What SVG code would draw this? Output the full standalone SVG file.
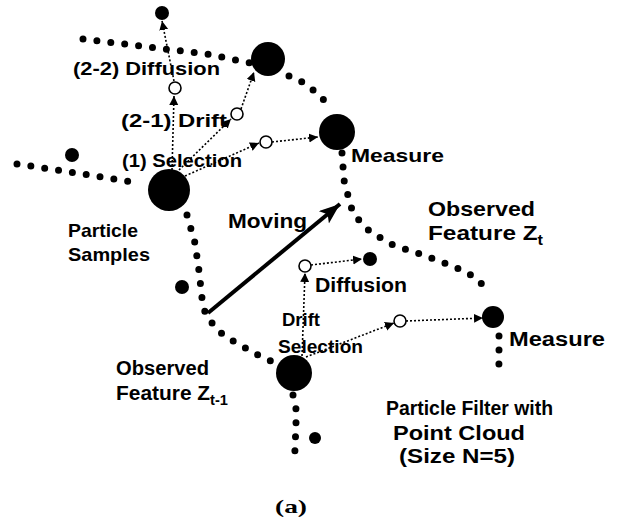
<svg xmlns="http://www.w3.org/2000/svg" width="619" height="525" viewBox="0 0 619 525">
<defs>
<style>
.track{fill:none;stroke:#000;stroke-width:7;stroke-linecap:round;stroke-dasharray:0 14}
.dot{fill:#000}
.open{fill:#fff;stroke:#000;stroke-width:1.6}
.conn{fill:none;stroke:#000;stroke-width:1.6;stroke-dasharray:2 2}
.lbl{font-family:"Liberation Sans",Arial,sans-serif;font-weight:bold;fill:#000}
.sub{font-size:14px}
.cap{font-family:"Liberation Serif","Times New Roman",serif;font-weight:bold;font-size:19px;fill:#000}
</style>
<marker id="ah" markerUnits="userSpaceOnUse" markerWidth="10" markerHeight="10" refX="9" refY="4.5" orient="auto">
<path d="M0,0 L9,4.5 L0,9 z" fill="#000"/>
</marker>
<marker id="bigah" markerUnits="userSpaceOnUse" markerWidth="22" markerHeight="18" refX="21" refY="8" orient="auto">
<path d="M0,0 L21,8 L0,16 L5,8 z" fill="#000"/>
</marker>
</defs>

<g id="tracks">
<path class="track" d="M83,39 L140,46 L207,54 L250,63"/>
<path class="track" d="M289,76 L302,82 L313,90 L323,99 L331,111"/>
<path class="track" d="M342,153 L344,180 L351,207 L357,218 L367,229 L379,237 L393,245 L423,255 L452,266 L468,273 L480,282 L490,294"/>
<path class="track" d="M499,336 L499,363 L498,376"/>
<path class="track" d="M17,164 L70,172 L138,183"/>
<path class="track" d="M187,215 L195,243 L199,271 L202,298 L205,312 L212,323 L221,333 L233,341 L258,355 L271,361"/>
<path class="track" d="M293,395 L296,409 L296,423 L295,450 L293,464"/>
</g>

<g id="connectors">
<path class="conn" d="M172,170 L174,96" marker-end="url(#ah)"/>
<path class="conn" d="M174,81 L162,21" marker-end="url(#ah)"/>
<path class="conn" d="M179,170 L231,119" marker-end="url(#ah)"/>
<path class="conn" d="M241,109 L254,72" marker-end="url(#ah)"/>
<path class="conn" d="M185,176 L259,143" marker-end="url(#ah)"/>
<path class="conn" d="M272,142 L318,137" marker-end="url(#ah)"/>
<path class="conn" d="M302,356 L305,273" marker-end="url(#ah)"/>
<path class="conn" d="M311,265 L362,259" marker-end="url(#ah)"/>
<path class="conn" d="M306,357 L394,323" marker-end="url(#ah)"/>
<path class="conn" d="M406,321 L483,318" marker-end="url(#ah)"/>
<path id="moving" d="M208,313 L340,204" fill="none" stroke="#000" stroke-width="4" marker-end="url(#bigah)"/>
</g>

<g id="nodeA"><circle class="dot" cx="268" cy="59" r="17"/></g>
<g id="nodeB"><circle class="dot" cx="337" cy="132" r="18"/></g>
<g id="nodeC"><circle class="dot" cx="169" cy="190" r="21"/></g>
<g id="nodeD"><circle class="dot" cx="294" cy="373" r="18"/></g>
<g id="nodeE"><circle class="dot" cx="493" cy="317" r="11"/></g>
<g id="dotTop"><circle class="dot" cx="162" cy="13" r="7"/></g>
<g id="dotLeft"><circle class="dot" cx="72" cy="155" r="7"/></g>
<g id="dotMid"><circle class="dot" cx="182" cy="287" r="7"/></g>
<g id="dotLow"><circle class="dot" cx="315" cy="438" r="6"/></g>
<g id="dotDiff"><circle class="dot" cx="370" cy="259" r="7"/></g>
<g id="open1"><circle class="open" cx="175" cy="88" r="6"/></g>
<g id="open2"><circle class="open" cx="237" cy="114" r="6"/></g>
<g id="open3"><circle class="open" cx="266" cy="142" r="6"/></g>
<g id="open4"><circle class="open" cx="305" cy="266" r="6"/></g>
<g id="open5"><circle class="open" cx="400" cy="321" r="6"/></g>

<g id="labels">
<text class="lbl" x="73" y="75" style="font-size:18px" textLength="147" lengthAdjust="spacingAndGlyphs">(2-2) Diffusion</text>
<text class="lbl" x="121" y="127" style="font-size:18px" textLength="106" lengthAdjust="spacingAndGlyphs">(2-1) Drift</text>
<text class="lbl" x="122" y="167" style="font-size:18px" textLength="120" lengthAdjust="spacingAndGlyphs">(1) Selection</text>
<text class="lbl" x="68" y="237" style="font-size:19px" textLength="70" lengthAdjust="spacingAndGlyphs">Particle</text>
<text class="lbl" x="68" y="261" style="font-size:19px" textLength="82" lengthAdjust="spacingAndGlyphs">Samples</text>
<text class="lbl" x="228" y="228" style="font-size:20px" textLength="79" lengthAdjust="spacingAndGlyphs">Moving</text>
<text class="lbl" x="351" y="162" style="font-size:19px" textLength="93" lengthAdjust="spacingAndGlyphs">Measure</text>
<text class="lbl" x="428" y="216" style="font-size:21px" textLength="107" lengthAdjust="spacingAndGlyphs">Observed</text>
<text class="lbl" x="428" y="240" style="font-size:21px" textLength="115" lengthAdjust="spacingAndGlyphs">Feature Z<tspan class="sub" dy="5">t</tspan></text>
<text class="lbl" x="116" y="375" style="font-size:20px" textLength="93" lengthAdjust="spacingAndGlyphs">Observed</text>
<text class="lbl" x="116" y="400" style="font-size:20px" textLength="112" lengthAdjust="spacingAndGlyphs">Feature Z<tspan class="sub" dy="5">t-1</tspan></text>
<text class="lbl" x="315" y="292" style="font-size:20px" textLength="92" lengthAdjust="spacingAndGlyphs">Diffusion</text>
<text class="lbl" x="282" y="326" style="font-size:19px" textLength="38" lengthAdjust="spacingAndGlyphs">Drift</text>
<text class="lbl" x="278" y="353" style="font-size:19px" textLength="85" lengthAdjust="spacingAndGlyphs">Selection</text>
<text class="lbl" x="509" y="346" style="font-size:20px" textLength="96" lengthAdjust="spacingAndGlyphs">Measure</text>
<text class="lbl" x="386" y="415" style="font-size:20px" textLength="167" lengthAdjust="spacingAndGlyphs">Particle Filter with</text>
<text class="lbl" x="393" y="440" style="font-size:20px" textLength="132" lengthAdjust="spacingAndGlyphs">Point Cloud</text>
<text class="lbl" x="399" y="463" style="font-size:20px" textLength="116" lengthAdjust="spacingAndGlyphs">(Size N=5)</text>
<text class="cap" x="275" y="513" textLength="32" lengthAdjust="spacingAndGlyphs">(a)</text>
</g>
</svg>
